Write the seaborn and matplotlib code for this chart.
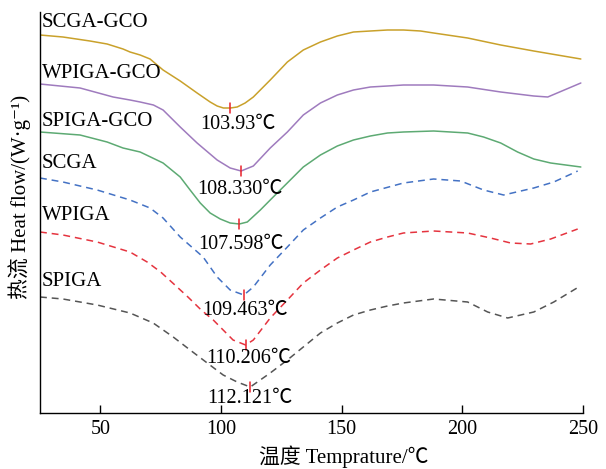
import numpy as np
import pandas as pd
import matplotlib
matplotlib.use("Agg")
import matplotlib.pyplot as plt
import seaborn as sns

# ---------------- data (heat flow in arbitrary units) ----------------
series_names = ["SCGA-GCO", "WPIGA-GCO", "SPIGA-GCO", "SCGA", "WPIGA", "SPIGA"]
peak_temps = [103.93, 108.330, 107.598, 109.463, 110.206, 112.121]
peak_labels = ["103.93℃", "108.330℃", "107.598℃", "109.463℃", "110.206℃", "112.121℃"]

scga_gco_x = [25, 34.5, 45.7, 52.8, 59.4, 62.3, 66.5, 70.6, 76.0, 83.1, 90.1, 95.5, 98.4, 101.0,
              103.93, 106.7, 110.0, 113.4, 120.4, 127.5, 134.1, 141.2, 148.2, 154.9, 161.9, 169.0,
              175.6, 182.7, 188.1, 202.2, 215.9, 229.6, 249.1]
scga_gco_y = [378, 376, 372, 369, 364, 361, 358, 354, 343, 332, 320, 311, 307, 305,
              305, 306, 310, 316, 333, 351, 363, 371, 377, 381, 382, 383,
              383, 382, 380, 375, 368, 362, 354]

wpiga_gco_x = [25, 41.6, 55.3, 62.3, 66.5, 72.0, 76.0, 83.1, 90.1, 98.4, 103.8, 108.33, 113.4,
               120.4, 127.5, 134.1, 141.2, 148.2, 154.9, 161.9, 169.0, 175.6, 182.7, 188.1,
               202.2, 215.9, 229.6, 235.4, 249.1]
wpiga_gco_y = [329, 325, 316, 313, 311, 308, 303, 286, 270, 253, 245, 242, 247,
               265, 281, 298, 310, 318, 323, 326, 327, 328, 328, 328,
               326, 321, 317, 316, 330]

spiga_gco_x = [25, 41.6, 52.8, 59.4, 66.5, 76.0, 83.1, 87.2, 91.4, 95.5, 99.7, 103.8, 107.598,
               110.9, 116.3, 120.4, 125.8, 134.1, 141.2, 148.2, 154.9, 161.9, 169.0, 175.6,
               188.1, 202.2, 208.8, 215.9, 222.9, 229.6, 236.6, 249.1]
spiga_gco_y = [281, 278, 271, 265, 261, 250, 236, 223, 210, 200, 194, 190, 189,
               191, 203, 213, 226, 246, 258, 267, 273, 277, 280, 281,
               282, 280, 276, 270, 261, 254, 250, 246]

scga_x = [25, 34.5, 48.7, 62.3, 70.6, 76.0, 83.1, 92.6, 98.4, 103.8, 109.463, 113.4, 120.4,
          127.5, 134.1, 141.2, 148.2, 154.9, 161.9, 175.6, 188.1, 199.3, 208.8, 217.1,
          229.6, 237.9, 247.8]
scga_y = [235, 231, 223, 213, 205, 195, 176, 156, 136, 123, 118, 126, 148,
          166, 183, 195, 206, 213, 221, 230, 234, 232, 223, 218,
          225, 231, 242]

wpiga_x = [25, 34.5, 48.7, 62.3, 69.4, 75.0, 80.9, 86.3, 91.8, 96.8, 100.9, 105.0, 110.206,
           113.4, 120.4, 127.5, 134.1, 141.2, 148.2, 154.9, 161.9, 169.0, 175.6, 188.1,
           202.2, 211.7, 220.0, 228.3, 236.6, 247.8]
wpiga_y = [181, 178, 171, 161, 151, 141, 128, 116, 103, 93, 83, 73, 68,
           73, 95, 113, 130, 143, 155, 163, 171, 176, 180, 182,
           180, 175, 170, 169, 174, 184]

spiga_x = [25, 34.5, 48.7, 62.3, 71.9, 80.2, 87.2, 94.3, 100.9, 106.7, 112.121, 120.4, 127.5,
           134.1, 141.2, 148.2, 154.9, 161.9, 169.0, 175.6, 188.1, 202.2, 210.5, 218.8,
           229.6, 237.9, 248.2]
spiga_y = [116, 114, 108, 100, 90, 76, 63, 50, 38, 31, 26, 40, 53,
           66, 80, 90, 98, 103, 107, 110, 114, 111, 101, 95,
           101, 111, 126]

x_ticks = [50, 100, 150, 200, 250]
x_label = "温度 Temprature/℃"
y_label = "热流 Heat flow/(W·g⁻¹)"

# ---------------- style / layout ----------------
colors = ["#C9A12B", "#9F7BBE", "#5DAA73", "#4472C4", "#E5343F", "#555555"]
dashed = [False, False, False, True, True, True]
label_pos_y = [390, 339, 292, 249, 197, 132]            # series-name text centres
annot_offsets = [(5, -12), (-1, -13), (1, -14.5), (1, -11.5), (2, -10), (0, -8)]  # points

curves_x = [scga_gco_x, wpiga_gco_x, spiga_gco_x, scga_x, wpiga_x, spiga_x]
curves_y = [scga_gco_y, wpiga_gco_y, spiga_gco_y, scga_y, wpiga_y, spiga_y]

frames = []
for name, xs, ys in zip(series_names, curves_x, curves_y):
    frames.append(pd.DataFrame({"T": xs, "HF": ys, "sample": name}))
df = pd.concat(frames, ignore_index=True)

sns.set_theme(style="white")
fam = ["Liberation Serif", "Noto Sans CJK SC", "DejaVu Sans"]
plt.rcParams["font.family"] = fam
plt.rcParams["axes.unicode_minus"] = False

fig = plt.figure(figsize=(6.06, 4.69), dpi=100)
ax = fig.add_axes([40 / 606, 56 / 469, 543 / 606, 401 / 469])

for i, name in enumerate(series_names):
    sub = df[df["sample"] == name]
    sns.lineplot(data=sub, x="T", y="HF", ax=ax, color=colors[i], lw=1.1,
                 linestyle="--" if dashed[i] else "-", errorbar=None, legend=False)
    if dashed[i]:
        ax.lines[-1].set_dashes((4.5, 3.2))

for i, name in enumerate(series_names):
    ax.text(25.8, label_pos_y[i], name, fontsize=15, ha="left", va="center",
            color="black", family=fam)
    ymin = float(np.interp(peak_temps[i], curves_x[i], curves_y[i]))
    ax.plot([peak_temps[i], peak_temps[i]], [ymin - 5, ymin + 5], color="#E8202A", lw=1.1)
    ax.annotate(peak_labels[i], xy=(peak_temps[i], ymin), xytext=annot_offsets[i],
                textcoords="offset points", ha="center", va="center",
                fontsize=14.5, family=fam, color="black")

ax.set_xlim(25, 250)
ax.set_ylim(0, 401)
ax.set_xticks(x_ticks)
ax.set_xticklabels([str(t) for t in x_ticks], fontsize=14.5, family=fam)
ax.set_yticks([])
ax.tick_params(axis="x", direction="in", length=6, width=1, color="black", pad=5,
               bottom=True, labelcolor="black")
for s in ["top", "right"]:
    ax.spines[s].set_visible(False)
for s in ["left", "bottom"]:
    ax.spines[s].set_color("black")
    ax.spines[s].set_linewidth(1.0)

ax.set_xlabel(x_label, fontsize=15, family=fam, color="black")
ax.xaxis.set_label_coords(0.56, -0.11)
ax.xaxis.label.set_va("center")
ax.set_ylabel(y_label, fontsize=15, family=fam, color="black")
ax.yaxis.set_label_coords(-0.037, 0.54)
ax.yaxis.label.set_va("center")

fig.savefig("out.png", dpi=100)
